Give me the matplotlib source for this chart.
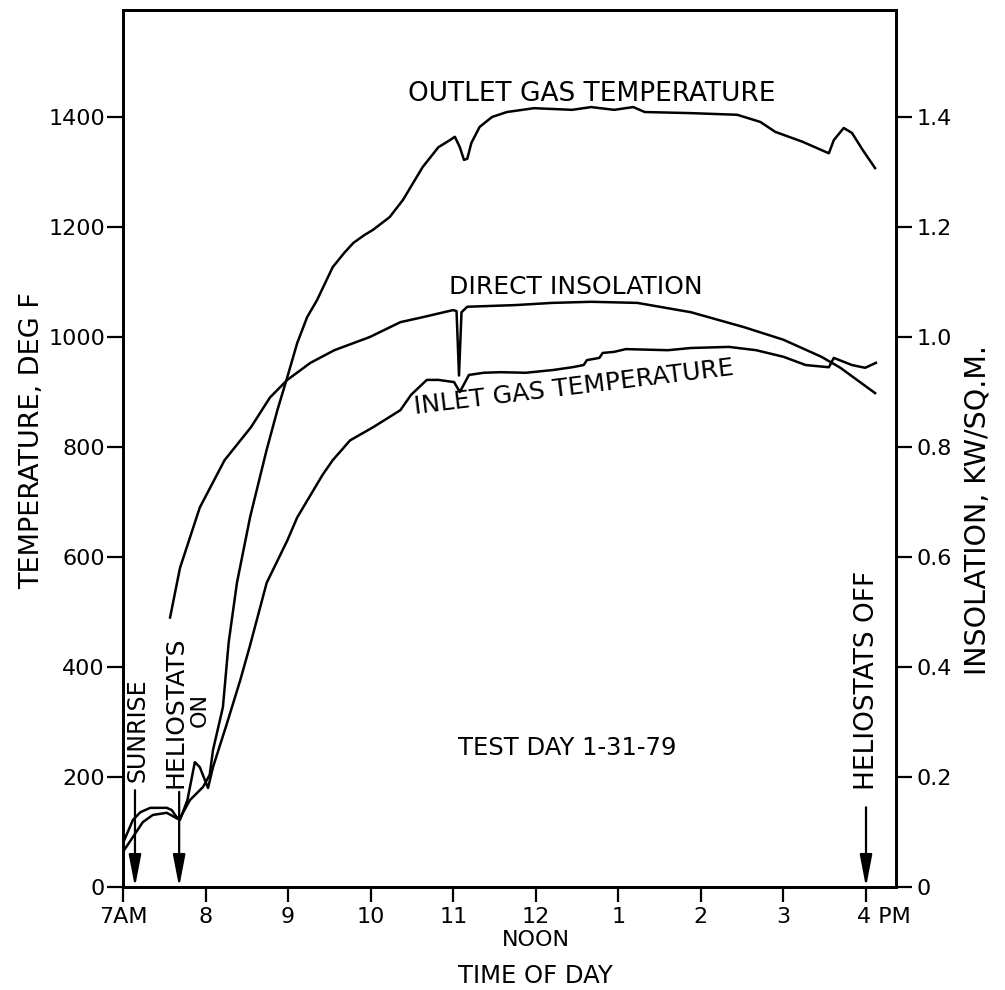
import matplotlib
matplotlib.use("Agg")
import matplotlib.pyplot as plt
from matplotlib import transforms

# time of day in decimal hours (7 = 7AM, 16 = 4PM)
hours = [7, 8, 9, 10, 11, 12, 13, 14, 15, 16]
hour_labels = ["7AM", "8", "9", "10", "11", "12\nNOON", "1", "2", "3", "4 PM"]
temp_ticks = [0, 200, 400, 600, 800, 1000, 1200, 1400]
insol_ticks = [0, 0.2, 0.4, 0.6, 0.8, 1.0, 1.2, 1.4]
insol_tick_labels = ["0", "0.2", "0.4", "0.6", "0.8", "1.0", "1.2", "1.4"]

# outlet gas temperature, deg F
outlet_t = [7.0, 7.12, 7.21, 7.33, 7.53, 7.59, 7.65, 7.69, 7.81, 7.97, 8.05,
            8.09, 8.21, 8.28, 8.38, 8.54, 8.74, 8.87, 8.99, 9.11, 9.23, 9.35,
            9.54, 9.68, 9.79, 9.92, 10.03, 10.23, 10.39, 10.63, 10.82, 10.96,
            11.02, 11.08, 11.13, 11.17, 11.22, 11.32, 11.47, 11.65, 11.98,
            12.44, 12.67, 12.95, 13.18, 13.32, 13.88, 14.44, 14.72, 14.90,
            15.23, 15.55, 15.61, 15.73, 15.83, 15.96, 16.11]
outlet_T = [80, 122, 136, 144, 144, 140, 127, 125, 158, 182, 204,
            249, 327, 445, 553, 673, 795, 867, 927, 989, 1036, 1067,
            1127, 1153, 1171, 1185, 1195, 1218, 1249, 1309, 1345, 1358,
            1364, 1345, 1322, 1324, 1353, 1382, 1400, 1409, 1416,
            1413, 1418, 1413, 1418, 1409, 1407, 1404, 1391, 1373,
            1355, 1334, 1358, 1380, 1371, 1340, 1307]

# inlet gas temperature, deg F
inlet_t = [7.0, 7.12, 7.24, 7.36, 7.53, 7.65, 7.69, 7.78, 7.87, 7.93, 8.03,
           8.09, 8.26, 8.42, 8.54, 8.74, 8.99, 9.11, 9.42, 9.54, 9.75, 10.03,
           10.36, 10.49, 10.68, 10.82, 11.01, 11.08, 11.19, 11.37, 11.57,
           11.88, 12.21, 12.44, 12.58, 12.62, 12.77, 12.81, 12.95, 13.09,
           13.60, 13.88, 14.34, 14.67, 15.0, 15.27, 15.55, 15.61, 15.83,
           15.99, 16.12]
inlet_T = [64, 91, 118, 131, 135, 125, 122, 158, 227, 218, 180,
           218, 298, 376, 440, 553, 630, 672, 750, 776, 812, 836,
           867, 895, 922, 922, 918, 900, 931, 935, 936,
           935, 940, 945, 949, 958, 962, 971, 973, 978,
           976, 980, 982, 976, 964, 949, 945, 962, 949,
           944, 953]

# direct insolation, kW/sq.m
insol_t = [7.57, 7.69, 7.93, 8.23, 8.55, 8.78, 8.99, 9.27, 9.56, 9.99, 10.36,
           10.63, 11.0, 11.04, 11.07, 11.10, 11.17, 11.75, 12.2, 12.67, 13.23,
           13.88, 14.52, 15.0, 15.46, 15.69, 16.11]
insol_kw = [0.49, 0.58, 0.69, 0.776, 0.836, 0.89, 0.922, 0.953, 0.976, 1.0,
            1.027, 1.036, 1.049, 1.047, 0.93, 1.045, 1.055, 1.058, 1.062,
            1.064, 1.062, 1.045, 1.018, 0.995, 0.964, 0.944, 0.898]

# event markers: sunrise, heliostats on, heliostats off
event_t = [7.145, 7.68, 16.0]
event_top = [176, 173, 145]

plt.rcParams["font.family"] = ["DejaVu Sans"]

fig = plt.figure(figsize=(10.05, 9.9), dpi=100)
ax = fig.add_axes([0.1224, 0.1040, 0.7692, 0.8859])
ax2 = ax.twinx()

lw = 1.8
ax.plot(outlet_t, outlet_T, color="black", lw=lw)
ax.plot(inlet_t, inlet_T, color="black", lw=lw)
ax2.plot(insol_t, insol_kw, color="black", lw=lw)

ax.set_xlim(7, 16.364)
ax.set_ylim(0, 1594.5)
ax2.set_ylim(0, 1.5945)

ax.set_xticks(hours)
ax.set_xticklabels(hour_labels)
ax.set_yticks(temp_ticks)
ax2.set_yticks(insol_ticks)
ax2.set_yticklabels(insol_tick_labels)

ax.tick_params(axis="x", direction="out", length=11, width=1.6, pad=3.5, labelsize=16)
ax.tick_params(axis="y", direction="out", length=11.5, width=1.6, pad=1.5, labelsize=16)
ax2.tick_params(axis="y", direction="out", length=11.5, width=1.6, pad=3.5, labelsize=16)

for a in (ax, ax2):
    for s in a.spines.values():
        s.set_linewidth(2)

# "4 PM" sits with its 4 under the tick
lab = ax.get_xticklabels()[-1]
lab.set_transform(lab.get_transform() + transforms.ScaledTranslation(0.18, 0, fig.dpi_scale_trans))

ax.set_xlabel("TIME OF DAY", fontsize=17.5)
ax.xaxis.set_label_coords(0.534, -0.0875)
ax.set_ylabel("TEMPERATURE, DEG F", fontsize=19.5)
ax.yaxis.set_label_coords(-0.101, 0.5097)
ax2.set_ylabel("INSOLATION, KW/SQ.M.", fontsize=20.5)
ax2.yaxis.set_label_coords(1.0867, 0.4299)

# curve labels
ax.text(12.68, 1442, "OUTLET GAS TEMPERATURE", fontsize=19, ha="center", va="center")
ax.text(12.48, 1091, "DIRECT INSOLATION", fontsize=18, ha="center", va="center")
ax.text(12.46, 908, "INLET GAS TEMPERATURE", fontsize=18, ha="center", va="center", rotation=7)
ax.text(12.38, 253, "TEST DAY 1-31-79", fontsize=17.5, ha="center", va="center")

# event labels and arrows
ax.text(7.176, 285, "SUNRISE", fontsize=17, rotation=90, ha="center", va="center")
ax.text(7.63, 318, "HELIOSTATS", fontsize=18, rotation=90, ha="center", va="center")
ax.text(7.93, 322, "ON", fontsize=16, rotation=90, ha="center", va="center")
ax.text(16.01, 376, "HELIOSTATS OFF", fontsize=19, rotation=90, ha="center", va="center")

for t, top in zip(event_t, event_top):
    ax.annotate("", xy=(t, 0), xytext=(t, top),
                arrowprops=dict(arrowstyle="-|>,head_length=1.3,head_width=0.25",
                                color="black", lw=1.6, shrinkA=0, shrinkB=0,
                                mutation_scale=15))

fig.savefig("out.png", dpi=100, facecolor="white")
